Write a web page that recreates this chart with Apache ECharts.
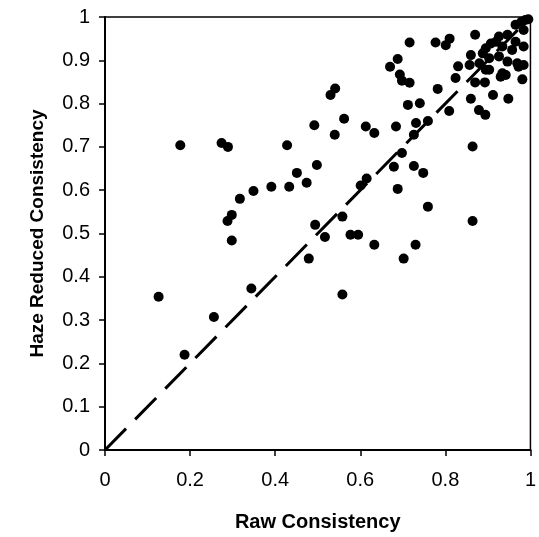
<!DOCTYPE html>
<html>
<head>
<meta charset="utf-8">
<script src="https://cdn.jsdelivr.net/npm/echarts@6/dist/echarts.min.js"></script>
<style>html,body{margin:0;padding:0;background:#fff}#c{width:539px;height:537px}</style>
</head>
<body>
<div id="c"></div>
<script>
// Raw Consistency (x) values
const rawConsistency = [
0.126,0.187,0.177,0.274,0.289,0.428,0.492,0.498,0.451,0.474,
0.391,0.433,0.349,0.317,0.298,0.288,0.298,0.494,0.256,0.344,
0.479,0.517,0.577,0.595,0.633,0.730,0.702,0.558,0.716,0.777,
0.801,0.810,0.870,0.688,0.670,0.693,0.698,0.716,0.541,0.530,
0.782,0.712,0.740,0.809,0.860,0.879,0.894,0.912,0.948,0.981,
0.562,0.540,0.613,0.633,0.684,0.731,0.759,0.726,0.864,0.698,
0.679,0.726,0.748,0.615,0.601,0.688,0.759,0.864,0.558,0.926,
0.946,0.965,0.979,0.988,0.995,0.984,0.907,0.919,0.895,0.860,
0.888,0.934,0.965,0.984,0.903,0.926,0.830,0.857,0.880,0.946,
0.969,0.984,0.895,0.903,0.934,0.942,0.930,0.824,0.870,0.893,
0.957,0.972
];
// Haze Reduced Consistency (y) values
const hazeReducedConsistency = [
0.354,0.220,0.704,0.709,0.700,0.704,0.750,0.658,0.640,0.617,
0.608,0.608,0.598,0.580,0.543,0.529,0.484,0.520,0.307,0.373,
0.442,0.492,0.497,0.497,0.474,0.474,0.442,0.359,0.941,0.941,
0.935,0.950,0.959,0.903,0.885,0.867,0.853,0.848,0.835,0.820,
0.834,0.797,0.801,0.783,0.811,0.785,0.774,0.820,0.811,0.856,
0.765,0.728,0.747,0.732,0.747,0.755,0.760,0.728,0.701,0.686,
0.654,0.656,0.640,0.627,0.611,0.603,0.562,0.529,0.539,0.955,
0.959,0.982,0.989,0.993,0.995,0.970,0.939,0.943,0.928,0.912,
0.916,0.932,0.943,0.932,0.905,0.909,0.886,0.889,0.893,0.897,
0.893,0.889,0.878,0.878,0.870,0.866,0.862,0.859,0.849,0.849,
0.924,0.885
];
// Reference line y = x
const refLineX = [0, 1];
const refLineY = [0, 1];
const xTicks = [0, 0.2, 0.4, 0.6, 0.8, 1];
const yTicks = [0, 0.1, 0.2, 0.3, 0.4, 0.5, 0.6, 0.7, 0.8, 0.9, 1];

const points = rawConsistency.map((x, i) => [x, hazeReducedConsistency[i]]);
const refLine = refLineX.map((x, i) => [x, refLineY[i]]);

const FONT = '"Liberation Sans", Arial, sans-serif';
const chart = echarts.init(document.getElementById('c'), null, {renderer: 'canvas'});
chart.setOption({
  animation: false,
  backgroundColor: '#fff',
  grid: {left: 105, right: 4, top: 17, bottom: 86, show: true, borderColor: '#000', borderWidth: 1.5, backgroundColor: 'transparent'},
  xAxis: {
    type: 'value', min: 0, max: 1, interval: 0.2,
    name: 'Raw Consistency', nameLocation: 'middle', nameGap: 62,
    nameTextStyle: {fontFamily: FONT, fontSize: 20, fontWeight: 'bold', color: '#000'},
    axisLine: {show: true, lineStyle: {color: '#000', width: 2}},
    axisTick: {show: true, inside: false, length: 6, lineStyle: {color: '#000', width: 1.5}},
    axisLabel: {fontFamily: FONT, fontSize: 20, color: '#000', margin: 20,
      formatter: v => { const t = xTicks.find(k => Math.abs(k - v) < 1e-9); return t === undefined ? '' : String(t); }},
    splitLine: {show: false}
  },
  yAxis: {
    type: 'value', min: 0, max: 1, interval: 0.1,
    name: 'Haze Reduced Consistency', nameLocation: 'middle', nameGap: 58,
    nameTextStyle: {fontFamily: FONT, fontSize: 19, fontWeight: 'bold', color: '#000'},
    axisLine: {show: true, lineStyle: {color: '#000', width: 2}},
    axisTick: {show: true, inside: false, length: 6, lineStyle: {color: '#000', width: 1.5}},
    axisLabel: {fontFamily: FONT, fontSize: 20, color: '#000', margin: 15,
      formatter: v => { const t = yTicks.find(k => Math.abs(k - v) < 1e-9); return t === undefined ? '' : String(t); }},
    splitLine: {show: false}
  },
  series: [
    {
      type: 'line', data: refLine, symbol: 'none', silent: true, z: 1,
      lineStyle: {color: '#000', width: 3, type: [30, 13]}
    },
    {
      type: 'scatter', data: points, symbol: 'circle', symbolSize: 10, z: 2,
      itemStyle: {color: '#000', opacity: 1}
    }
  ]
});
</script>
</body>
</html>
